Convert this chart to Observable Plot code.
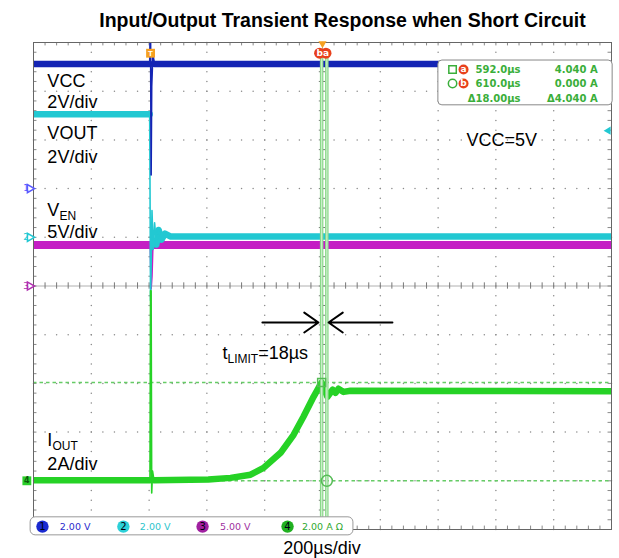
<!DOCTYPE html>
<html><head><meta charset="utf-8">
<script src="https://cdn.jsdelivr.net/npm/d3@7"></script>
<script src="https://cdn.jsdelivr.net/npm/@observablehq/plot@0.6"></script>
<style>
body{margin:0;background:#fff;font-family:"Liberation Sans",Arial,sans-serif;}
#title{height:36px;line-height:40px;font-weight:bold;font-size:19.5px;text-align:center;padding-left:66px;width:553px;white-space:nowrap;}
#cap{height:22px;line-height:24px;font-size:18px;text-align:center;padding-left:33px;width:578px;}
svg text{font-family:"Liberation Sans",Arial,sans-serif;}
svg .scope text, svg text.scope{font-family:"DejaVu Sans",Verdana,sans-serif;}
</style></head><body>
<div id="title">Input/Output Transient Response when Short Circuit</div>
<div id="chart"></div>
<div id="cap">200µs/div</div>
<script>
// ---- channel settings ----
const chNames = ["1", "2", "3", "4"];
const chScale = [2, 2, 5, 2];          // per division
const chUnit = ["V", "V", "V", "A Ω"];
const chOffset = [2, 1, 0, -4];        // ground marker position, divisions from centre
const chColor = ["#1424b4", "#22c8d2", "#c41ec4", "#26d226"];

// ---- traces (time in µs, value in V or A) ----
const vccT = [-405, -3, -1, 0, 2, 4, 8, 14, 1595];
const vccV = [5.12, 5.12, 6.6, 6.6, 0.56, 4.2, 5.5, 5.12, 5.12];

const voutT = [-405, -3, 0, 2, 5, 9, 14, 20, 28, 38, 50, 70, 1595];
const voutV = [5.05, 5.05, -2.6, -1.2, 1.1, -0.5, 0.6, -0.3, 0.3, -0.1, 0.15, 0.03, 0.03];

const venT = [-405, -1, 2, 5, 9, 14, 1595];
const venV = [4.2, 4.2, -0.3, 1.0, 5.0, 4.2, 4.2];

const ioutT = [-405, -2, 0, 2, 4, 7, 12, 200, 277, 346, 391, 450, 495, 529, 564, 592, 612, 630, 640, 650, 668, 692, 1595];
const ioutA = [0.02, 0.02, 7.8, 7.8, -0.5, 0.4, 0.02, 0.05, 0.12, 0.25, 0.53, 1.15, 1.89, 2.63, 3.45, 4.04, 3.45, 3.74, 3.61, 3.78, 3.65, 3.70, 3.68];

// ---- cursors ----
const cursorTimes = [592, 610];   // µs
const cursorAmps = [4.04, 0.0];   // A

// ---- screen ----
const X0 = -405, X1 = 1595;       // 200 µs/div, 10 div

const toDiv = (v, c) => v / chScale[c] + chOffset[c];
function trace(ts, vs, c) { return ts.map((t, i) => ({t, d: toDiv(vs[i], c)})); }
function band(ts, vs, c, lo, hi) { return ts.map((t, i) => ({t, d: (t > lo && t < hi) ? NaN : toDiv(vs[i], c)})); }

const traces = [
  {c: 2, T: venT, V: venV, lo: -1, hi: 14, w: 8},
  {c: 1, T: voutT, V: voutV, lo: -3, hi: 20, w: 6.5},
  {c: 0, T: vccT, V: vccV, lo: -3, hi: 14, w: 6.5},
  {c: 3, T: ioutT, V: ioutA, lo: -2, hi: 12, w: 6.5}
];

// grid
const xMajor = d3.range(1, 10).map(k => X0 + 200 * k);
const yMajor = d3.range(-4, 5).filter(k => k !== 0);
const xMinor = d3.range(0, 51).map(k => X0 + 40 * k);
const yMinor = d3.range(0, 51).map(k => -5 + 0.2 * k);
const gridDots = [];
for (const x of xMajor) for (const y of yMinor) gridDots.push({x, y});
for (const y of yMajor) for (const x of xMinor) gridDots.push({x, y});
const XC = X0 + 1000;

const marks = [];
marks.push(Plot.dot(gridDots, {x: "x", y: "y", r: 0.75, fill: "#8a8a8a"}));
marks.push(Plot.ruleY([0], {stroke: "#b0b0b0"}));
marks.push(Plot.ruleX([XC], {stroke: "#b0b0b0"}));
marks.push(Plot.ruleX(xMinor, {y1: -0.065, y2: 0.065, stroke: "#777"}));
marks.push(Plot.ruleY(yMinor, {x1: XC - 11, x2: XC + 11, stroke: "#777"}));
marks.push(Plot.ruleX(xMinor, {y1: 5, y2: 4.93, stroke: "#888"}));
marks.push(Plot.ruleX(xMinor, {y1: -5, y2: -4.93, stroke: "#888"}));
marks.push(Plot.ruleY(yMinor, {x1: X0, x2: X0 + 12, stroke: "#888"}));
marks.push(Plot.ruleY(yMinor, {x1: X1 - 12, x2: X1, stroke: "#888"}));

// horizontal cursors
marks.push(Plot.ruleY(cursorAmps.map(a => toDiv(a, 3)), {stroke: "#66cc66", strokeWidth: 1.6, strokeDasharray: "3.5,3"}));

// traces
for (const tr of traces) {
  marks.push(Plot.line(band(tr.T, tr.V, tr.c, tr.lo, tr.hi), {x: "t", y: "d", stroke: chColor[tr.c], strokeWidth: tr.w, clip: true}));
  marks.push(Plot.line(trace(tr.T, tr.V, tr.c), {x: "t", y: "d", stroke: chColor[tr.c], strokeWidth: 1.6, clip: true}));
}

// vertical cursors
marks.push(Plot.ruleX(cursorTimes, {y1: -5, y2: 4.72, stroke: "#8ad88a", strokeWidth: 3.5}));
marks.push(Plot.ruleX(cursorTimes, {y1: -5, y2: 4.72, stroke: "#eaf8ea", strokeWidth: 1.2, strokeOpacity: 0.7}));
marks.push(Plot.dot([0], {x: cursorTimes[0], y: toDiv(cursorAmps[0], 3), symbol: "square", r: 4.5, stroke: "#55bb55", fill: "none"}));
marks.push(Plot.dot([0], {x: cursorTimes[1], y: toDiv(cursorAmps[1], 3), r: 5.5, stroke: "#55bb55", fill: "none"}));

marks.push(Plot.frame({stroke: "#666"}));

// text annotations
const notes = [
  {t: -357, d: 4.2, s: "VCC"},
  {t: -357, d: 3.77, s: "2V/div"},
  {t: -357, d: 3.13, s: "VOUT"},
  {t: -357, d: 2.64, s: "2V/div"},
  {t: -357, d: 1.55, s: "V_{EN}"},
  {t: -357, d: 1.1, s: "5V/div"},
  {t: -357, d: -3.17, s: "I_{OUT}"},
  {t: -357, d: -3.66, s: "2A/div"},
  {t: 1093, d: 2.99, s: "VCC=5V"},
  {t: 249, d: -1.39, s: "t_{LIMIT}=18µs"}
];
marks.push(Plot.text(notes, {x: "t", y: "d", text: "s", textAnchor: "start", fontSize: 18, fill: "#000"}));

// arrows
marks.push(Plot.arrow([0], {x1: 387, y1: -0.75, x2: 581, y2: -0.75, stroke: "#000", strokeWidth: 2, headLength: 13, headAngle: 70}));
marks.push(Plot.arrow([0], {x1: 837, y1: -0.75, x2: 616, y2: -0.75, stroke: "#000", strokeWidth: 2, headLength: 13, headAngle: 70}));

// measurement box
const mGreen = "#3aae3a";
marks.push(Plot.rect([0], {x1: 996, x2: 1599, y1: 4.63, y2: 3.71, fill: "white", stroke: "#888", rx: 4}));
const rowY = [4.445, 4.158, 3.85];
marks.push(Plot.dot([0], {x: 1045, y: rowY[0], symbol: "square", r: 4.2, stroke: mGreen, fill: "none"}));
marks.push(Plot.dot([0], {x: 1045, y: rowY[1], r: 4.2, stroke: mGreen, fill: "none"}));
marks.push(Plot.dot([0, 1], {x: [1083, 1083], y: [rowY[0], rowY[1]], r: 5, fill: "#e8401c"}));
marks.push(Plot.text(["a", "b"], {x: [1083, 1083], y: [rowY[0], rowY[1]], text: d => d, fill: "white", fontSize: 9, fontWeight: "bold", className: "scope"}));
const col1 = [cursorTimes[0].toFixed(1) + "µs", cursorTimes[1].toFixed(1) + "µs", "Δ" + (cursorTimes[1] - cursorTimes[0]).toFixed(2) + "µs"];
const col2 = [cursorAmps[0].toFixed(3) + " A", cursorAmps[1].toFixed(3) + " A", "Δ" + (cursorAmps[0] - cursorAmps[1]).toFixed(3) + " A"];
marks.push(Plot.text(col1, {x: 1280, y: rowY, text: d => d, textAnchor: "end", fill: mGreen, fontSize: 10, fontWeight: "bold", className: "scope"}));
marks.push(Plot.text(col2, {x: 1547, y: rowY, text: d => d, textAnchor: "end", fill: mGreen, fontSize: 10, fontWeight: "bold", className: "scope"}));

// top markers
marks.push(Plot.dot([0], {x: 0, y: 4.78, symbol: "square", r: 5, fill: "#f5a020"}));
marks.push(Plot.text(["T"], {x: 0, y: 4.78, text: d => d, fill: "white", fontSize: 8, fontWeight: "bold"}));
marks.push(Plot.dot([0], {x: XC, y: 4.98, symbol: "triangle", rotate: 180, r: 3, fill: "#f5a020"}));
marks.push(Plot.dot([0, 1], {x: [585, 607], y: [4.78, 4.78], r: 5.5, fill: "#e8401c"}));
marks.push(Plot.text(["b", "a"], {x: [585, 607], y: [4.78, 4.78], text: d => d, fill: "white", fontSize: 9, fontWeight: "bold", className: "scope"}));

// right marker (ch2 trigger level)
marks.push(Plot.dot([0], {x: 1584, y: 3.19, symbol: "triangle", rotate: -90, r: 3, fill: "#22c8d2"}));

// left channel ground markers
marks.push(Plot.text(chNames.slice(0, 3), {x: -431, y: chOffset.slice(0, 3), text: d => d, fill: (d, i) => ["#5a5aff", "#22c8d2", "#b030b0"][i], fontSize: 9, className: "scope"}));
marks.push(Plot.dot(chNames.slice(0, 3), {x: -418, y: chOffset.slice(0, 3), symbol: "triangle", rotate: 90, r: 3, stroke: (d, i) => ["#5a5aff", "#22c8d2", "#b030b0"][i], fill: "none"}));
marks.push(Plot.dot([0], {x: -428, y: chOffset[3], symbol: "square", r: 5, fill: "#2bcf2b"}));
marks.push(Plot.text(["4"], {x: -428, y: chOffset[3], text: d => d, fill: "#0a5a0a", fontSize: 8, fontWeight: "bold", className: "scope"}));

// status bar
marks.push(Plot.rect([0], {x1: -415, x2: 702, y1: -4.75, y2: -5.12, fill: "white", stroke: "#999", rx: 5}));
const sbCircle = [-374, -94, 180, 474];
const sbText = [-314, -37, 240, 524];
const sbFill = ["#1a2ad0", "#2cd0d8", "#a020a0", "#20b020"];
const sbInk = ["#2a2acc", "#2cc4cc", "#a030a0", "#30a830"];
marks.push(Plot.dot(chNames, {x: sbCircle, y: chNames.map(() => -4.94), r: 6.2, fill: (d, i) => sbFill[i]}));
marks.push(Plot.text(chNames, {x: sbCircle, y: chNames.map(() => -4.94), text: d => d, fill: "#001", fontSize: 10, className: "scope"}));
marks.push(Plot.text(chNames.map((d, i) => chScale[i].toFixed(2) + " " + chUnit[i]), {x: sbText, y: chNames.map(() => -4.94), text: d => d, textAnchor: "start", fill: (d, i) => sbInk[i], fontSize: 9.5, className: "scope"}));

const svg = Plot.plot({
  width: 619, height: 500,
  marginTop: 6, marginBottom: 7, marginLeft: 33, marginRight: 8,
  x: {domain: [X0, X1], axis: null},
  y: {domain: [-5, 5], axis: null},
  style: {background: "white", overflow: "visible"},
  marks
});

// subscripts
const ns = "http://www.w3.org/2000/svg";
svg.querySelectorAll("text").forEach(el => {
  const m = el.textContent.match(/^(.*?)_\{(.*?)\}(.*)$/);
  if (!m) return;
  el.textContent = "";
  const a = document.createElementNS(ns, "tspan"); a.textContent = m[1]; el.appendChild(a);
  const b = document.createElementNS(ns, "tspan"); b.textContent = m[2]; b.setAttribute("font-size", "12"); b.setAttribute("dy", "4"); el.appendChild(b);
  if (m[3]) { const c = document.createElementNS(ns, "tspan"); c.textContent = m[3]; c.setAttribute("dy", "-4"); el.appendChild(c); }
});
document.getElementById("chart").appendChild(svg);
</script>
</body></html>
